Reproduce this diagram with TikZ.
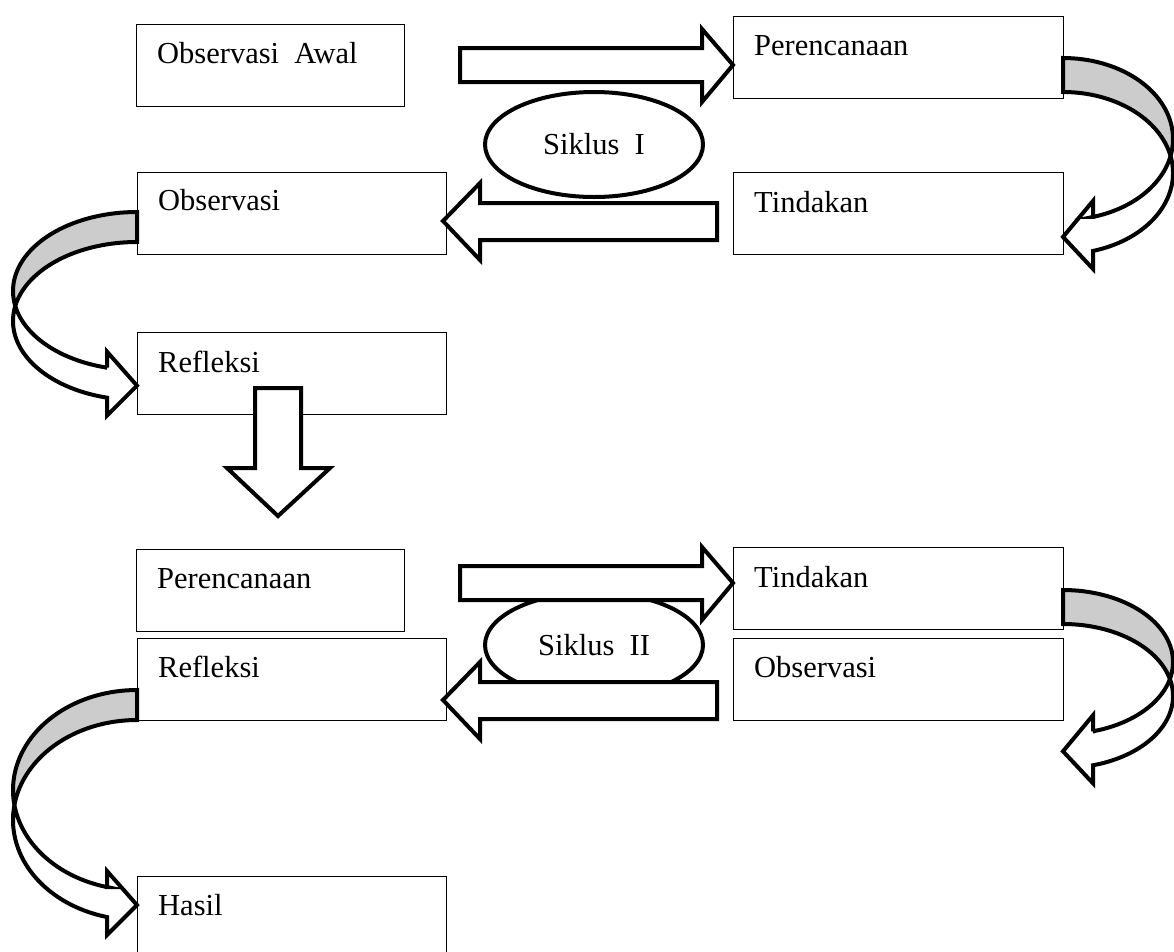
\documentclass[tikz,border=0pt]{standalone}
\usepackage{fontspec}
\setmainfont{Liberation Serif}
\usetikzlibrary{calc,shapes.geometric}
\newcommand{\carrow}[6]{% dir, x0, ytop, a, b, thickness
  \pgfmathsetmacro\cti{asin(#6/(2*#5))}
  \pgfmathsetmacro\cte{-acos(30/#4)}
  \pgfmathsetmacro\cs{sin(acos(30/#4))}
  \pgfmathsetmacro\cyA{#3+#5+#5*\cs}
  \pgfmathsetmacro\cyB{#3+#6+#5+#5*\cs}
  \pgfmathsetmacro\cxh{#2+#1*30}
  \pgfmathsetmacro\cyt{(\cyA+\cyB)/2+3}
  \filldraw[band,fill=bandgrey] plot[domain=90:-\cti,samples=40] ({#2+#1*#4*cos(\x)},{#3+#5-#5*sin(\x)})
     -- plot[domain=\cti:90,samples=40] ({#2+#1*#4*cos(\x)},{#3+#6+#5-#5*sin(\x)}) -- cycle;
  \filldraw[band,fill=white] plot[domain=\cti:\cte,samples=50] ({#2+#1*#4*cos(\x)},{#3+#6+#5-#5*sin(\x)})
     -- (\cxh,\cyB+18) -- (#2,\cyt) -- (\cxh,\cyA-16) -- (\cxh,\cyA)
     -- plot[domain=\cte:-\cti,samples=50] ({#2+#1*#4*cos(\x)},{#3+#5-#5*sin(\x)}) -- cycle;
}
\definecolor{bandgrey}{RGB}{204,204,204}
\begin{document}
\begin{tikzpicture}[x=1pt,y=-1pt,
  box/.style={draw, line width=1.3pt, anchor=north west, inner sep=0pt, minimum height=82pt},
  wbox/.style={box, minimum width=309pt},
  nbox/.style={box, minimum width=268pt},
  rbox/.style={box, minimum width=330pt},
  lbl/.style={anchor=base west, inner sep=0pt, font=\fontsize{30.5}{36}\selectfont},
  cyc/.style={draw, ellipse, line width=4pt, inner sep=0pt, minimum width=218pt, minimum height=105pt, font=\fontsize{30.5}{36}\selectfont},
  blk/.style={draw, line width=4pt, fill=white, line join=miter, miter limit=10},
  band/.style={draw, line width=4pt, line join=miter, miter limit=10}]
\useasboundingbox (0,0) rectangle (1174,951);
% ---------- Siklus I ----------
\node[nbox] (oa) at (136,24) {};
\node[rbox] (p1) at (733,16) {};
\node[wbox] (o1) at (137,172) {};
\node[rbox] (t1) at (733,172) {};
\node[wbox] (r1) at (137,332) {};
\node[lbl] (oat) at ($(oa.north west)+(21,39)$) {Observasi\ \ Awal};
\node[lbl] (p1t) at ($(p1.north west)+(21,39)$) {Perencanaan};
\node[lbl] (o1t) at ($(o1.north west)+(21,38)$) {Observasi};
\node[lbl] (t1t) at ($(t1.north west)+(21,40)$) {Tindakan};
\node[lbl] (r1t) at ($(r1.north west)+(21,40)$) {Refleksi};
\node[cyc] (s1) at (594,144.5) {Siklus\ \ I};
\draw[blk] (460,48) -- (702,48) -- (702,29) -- (733,65) -- (702,102) -- (702,82) -- (460,82) -- cycle;
\draw[blk] (717,203) -- (480,203) -- (480,183) -- (443,221) -- (480,260) -- (480,240) -- (717,240) -- cycle;
\carrow{1}{1063}{58}{110}{81}{34}
\carrow{-1}{137}{212}{124}{79}{30}
\draw[blk] (255,388) -- (301,388) -- (301,468) -- (330,468) -- (278,516) -- (227,468) -- (255,468) -- cycle;
% ---------- Siklus II ----------
\node[nbox] (p2) at (136,549) {};
\node[rbox] (t2) at (733,547) {};
\node[wbox] (r2) at (137,638) {};
\node[rbox] (o2) at (733,638) {};
\node[wbox, minimum height=100pt] (h) at (137,876) {};
\node[lbl] (p2t) at ($(p2.north west)+(21,39)$) {Perencanaan};
\node[lbl] (t2t) at ($(t2.north west)+(21,40)$) {Tindakan};
\node[lbl] (r2t) at ($(r2.north west)+(21,39)$) {Refleksi};
\node[lbl] (o2t) at ($(o2.north west)+(21,39)$) {Observasi};
\node[lbl] (ht) at ($(h.north west)+(21,39)$) {Hasil};
\node[cyc] (s2) at (594,645) {Siklus\ \ II};
\draw[blk] (460,566) -- (702,566) -- (702,547) -- (733,583) -- (702,620) -- (702,600) -- (460,600) -- cycle;
\draw[blk] (717,682) -- (480,682) -- (480,662) -- (443,700) -- (480,739) -- (480,719) -- (717,719) -- cycle;
\carrow{1}{1063}{590}{110}{72}{34}
\carrow{-1}{137}{690}{124}{100}{30}
\end{tikzpicture}
\end{document}
